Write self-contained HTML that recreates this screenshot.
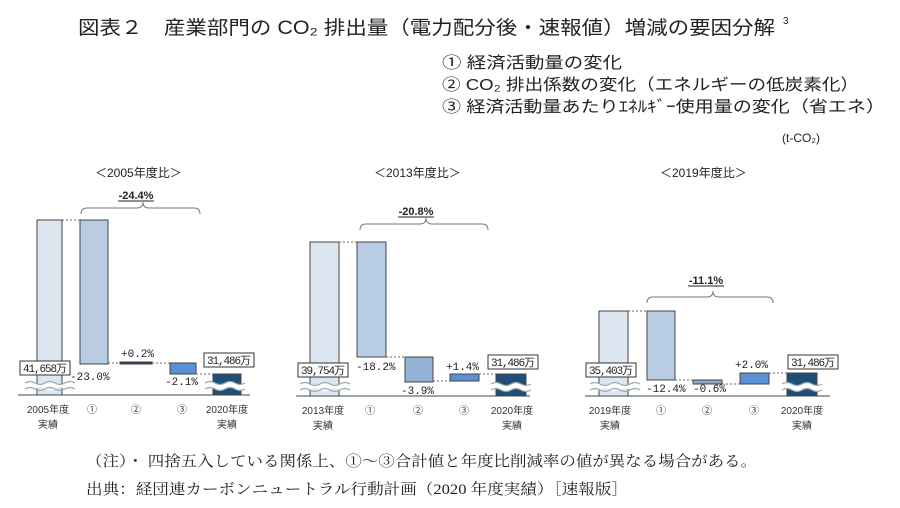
<!DOCTYPE html>
<html><head><meta charset="utf-8"><style>
html,body{margin:0;padding:0;background:#fff;}
svg{display:block;}
text{font-family:"Liberation Sans","Noto Sans CJK JP",sans-serif;fill:#222;}
text.s{font-family:"Liberation Serif","Noto Serif CJK SC",serif;}
.m text{font-family:"Liberation Mono","Noto Sans CJK JP",monospace;font-size:11px;}
.c text{font-size:10px;text-anchor:middle;fill:#333;}
</style></head><body>
<svg width="900" height="508" viewBox="0 0 900 508" xmlns="http://www.w3.org/2000/svg">
<text x="78" y="34" font-size="19" textLength="697" lengthAdjust="spacingAndGlyphs">図表２　産業部門の CO₂ 排出量（電力配分後・速報値）増減の要因分解</text>
<text x="783" y="24" font-size="10">3</text>
<text x="442" y="68" font-size="16" textLength="180" lengthAdjust="spacingAndGlyphs">① 経済活動量の変化</text>
<text x="442" y="90" font-size="16" textLength="417" lengthAdjust="spacingAndGlyphs">② CO₂ 排出係数の変化（エネルギーの低炭素化）</text>
<text x="442" y="112" font-size="16" textLength="443" lengthAdjust="spacingAndGlyphs">③ 経済活動量あたりｴﾈﾙｷﾞｰ使用量の変化（省エネ）</text>
<text x="782" y="142" font-size="12">(t-CO₂)</text>

<text x="95" y="177" font-size="12">＜2005年度比＞</text>
<text x="374" y="177" font-size="12">＜2013年度比＞</text>
<text x="660" y="177" font-size="12">＜2019年度比＞</text>

<g stroke="#444" stroke-width="1">
<line x1="18" y1="395" x2="250" y2="395"/>
<rect x="37" y="220" width="25" height="175" fill="#dce6f1"/>
<rect x="80" y="220" width="28" height="144" fill="#b8cce4"/>
<rect x="120" y="362" width="32" height="2" fill="#1f3864"/>
<rect x="170" y="363" width="26" height="11" fill="#5b8fd6"/>
<rect x="213" y="374" width="28" height="21" fill="#1f4e79"/>
<line x1="296" y1="396" x2="530" y2="396"/>
<rect x="310" y="242" width="29" height="154" fill="#dce6f1"/>
<rect x="357" y="242" width="29" height="115" fill="#b8cce4"/>
<rect x="405" y="357" width="28" height="25" fill="#95b3d7"/>
<rect x="450" y="374" width="29" height="7" fill="#5b8fd6"/>
<rect x="496" y="374" width="30" height="22" fill="#1f4e79"/>
<line x1="585" y1="396" x2="830" y2="396"/>
<rect x="599" y="311" width="29" height="85" fill="#dce6f1"/>
<rect x="647" y="311" width="28" height="69" fill="#b8cce4"/>
<rect x="693" y="380" width="29" height="4" fill="#8ea9c8"/>
<rect x="740" y="373" width="29" height="11" fill="#5b8fd6"/>
<rect x="787" y="373" width="30" height="23" fill="#1f4e79"/>
</g>
<g stroke="#666" stroke-dasharray="2,2" stroke-width="1">
<line x1="62" y1="220" x2="80" y2="220"/><line x1="108" y1="363" x2="120" y2="363"/><line x1="152" y1="363" x2="170" y2="363"/><line x1="196" y1="374" x2="213" y2="374"/>
<line x1="339" y1="242" x2="357" y2="242"/><line x1="386" y1="357" x2="405" y2="357"/><line x1="433" y1="381" x2="450" y2="381"/><line x1="479" y1="374" x2="496" y2="374"/>
<line x1="628" y1="311" x2="647" y2="311"/><line x1="675" y1="380" x2="693" y2="380"/><line x1="722" y1="384" x2="740" y2="384"/><line x1="769" y1="373" x2="787" y2="373"/>
</g>
<g fill="none" stroke="#777" stroke-width="1">
<path d="M81,214 q0,-6 6,-6 h50 q6,0 6,-6 q0,6 6,6 h45 q6,0 6,6"/>
<path d="M360,230 q0,-6 6,-6 h54 q6,0 6,-6 q0,6 6,6 h50 q6,0 6,6"/>
<path d="M647,303 q0,-6 6,-6 h54 q6,0 6,-6 q0,6 6,6 h48 q6,0 6,6"/>
</g>
<text x="136" y="199" font-size="11" font-weight="bold" text-anchor="middle">-24.4%</text>
<line x1="118" y1="201" x2="154" y2="201" stroke="#222"/>
<text x="416" y="215" font-size="11" font-weight="bold" text-anchor="middle">-20.8%</text>
<line x1="398" y1="217" x2="434" y2="217" stroke="#222"/>
<text x="706" y="284" font-size="11" font-weight="bold" text-anchor="middle">-11.1%</text>
<line x1="688" y1="286" x2="724" y2="286" stroke="#222"/>
<!-- waves: white band + wavy edges -->
<g>
<g transform="translate(25,381)"><path d="M0,2 q5,-3 10,0 t10,0 t10,0 t10,0 t10,0 V8 q-5,3 -10,0 t-10,0 t-10,0 t-10,0 t-10,0 Z" fill="#fff"/><path d="M0,2 q5,-3 10,0 t10,0 t10,0 t10,0 t10,0 M0,8 q5,-3 10,0 t10,0 t10,0 t10,0 t10,0" fill="none" stroke="#9aa" stroke-width="1.2"/></g>
<g transform="translate(205,381)"><path d="M0,2 q5,-3 10,0 t10,0 t10,0 t10,0 V8 q-5,3 -10,0 t-10,0 t-10,0 t-10,0 Z" fill="#fff"/><path d="M0,2 q5,-3 10,0 t10,0 t10,0 t10,0 M0,8 q5,-3 10,0 t10,0 t10,0 t10,0" fill="none" stroke="#9aa" stroke-width="1.2"/></g>
<g transform="translate(300,382)"><path d="M0,2 q5,-3 10,0 t10,0 t10,0 t10,0 t10,0 V8 q-5,3 -10,0 t-10,0 t-10,0 t-10,0 t-10,0 Z" fill="#fff"/><path d="M0,2 q5,-3 10,0 t10,0 t10,0 t10,0 t10,0 M0,8 q5,-3 10,0 t10,0 t10,0 t10,0 t10,0" fill="none" stroke="#9aa" stroke-width="1.2"/></g>
<g transform="translate(491,382)"><path d="M0,2 q5,-3 10,0 t10,0 t10,0 t10,0 V8 q-5,3 -10,0 t-10,0 t-10,0 t-10,0 Z" fill="#fff"/><path d="M0,2 q5,-3 10,0 t10,0 t10,0 t10,0 M0,8 q5,-3 10,0 t10,0 t10,0 t10,0" fill="none" stroke="#9aa" stroke-width="1.2"/></g>
<g transform="translate(590,382)"><path d="M0,2 q5,-3 10,0 t10,0 t10,0 t10,0 t10,0 V8 q-5,3 -10,0 t-10,0 t-10,0 t-10,0 t-10,0 Z" fill="#fff"/><path d="M0,2 q5,-3 10,0 t10,0 t10,0 t10,0 t10,0 M0,8 q5,-3 10,0 t10,0 t10,0 t10,0 t10,0" fill="none" stroke="#9aa" stroke-width="1.2"/></g>
<g transform="translate(782,382)"><path d="M0,2 q5,-3 10,0 t10,0 t10,0 t10,0 V8 q-5,3 -10,0 t-10,0 t-10,0 t-10,0 Z" fill="#fff"/><path d="M0,2 q5,-3 10,0 t10,0 t10,0 t10,0 M0,8 q5,-3 10,0 t10,0 t10,0 t10,0" fill="none" stroke="#9aa" stroke-width="1.2"/></g>
</g>
<g fill="#fff" stroke="#333" stroke-width="1">
<rect x="20" y="361" width="50" height="14"/><rect x="204" y="353" width="50" height="14"/>
<rect x="298" y="363" width="50" height="14"/><rect x="488" y="355" width="50" height="14"/>
<rect x="586" y="363" width="50" height="14"/><rect x="788" y="355" width="50" height="14"/>
</g>
<g class="m">
<text x="23" y="372" textLength="44">41,658万</text><text x="207" y="364" textLength="44">31,486万</text>
<text x="301" y="374" textLength="44">39,754万</text><text x="491" y="366" textLength="44">31,486万</text>
<text x="589" y="374" textLength="44">35,403万</text><text x="791" y="366" textLength="44">31,486万</text>
<text x="70" y="380">-23.0%</text><text x="121" y="357">+0.2%</text><text x="165" y="385">-2.1%</text>
<text x="356" y="370">-18.2%</text><text x="401" y="394">-3.9%</text><text x="446" y="370">+1.4%</text>
<text x="646" y="392">-12.4%</text><text x="693" y="392">-0.6%</text><text x="735" y="368">+2.0%</text>
</g>
<g class="c">
<text x="48" y="413">2005年度</text><text x="48" y="428">実績</text>
<text x="92" y="413">①</text><text x="136" y="413">②</text><text x="182" y="413">③</text>
<text x="227" y="413">2020年度</text><text x="227" y="428">実績</text>
<text x="323" y="414">2013年度</text><text x="323" y="429">実績</text>
<text x="370" y="414">①</text><text x="418" y="414">②</text><text x="464" y="414">③</text>
<text x="512" y="414">2020年度</text><text x="512" y="429">実績</text>
<text x="610" y="414">2019年度</text><text x="610" y="429">実績</text>
<text x="661" y="414">①</text><text x="707" y="414">②</text><text x="754" y="414">③</text>
<text x="802" y="414">2020年度</text><text x="802" y="429">実績</text>
</g>
<text class="s" x="86" y="466" font-size="15" textLength="671" lengthAdjust="spacingAndGlyphs">（注）・ 四捨五入している関係上、①～③合計値と年度比削減率の値が異なる場合がある。</text>
<text class="s" x="86" y="494" font-size="15" textLength="542" lengthAdjust="spacingAndGlyphs">出典：経団連カーボンニュートラル行動計画（2020 年度実績）［速報版］</text>
</svg>
</body></html>
